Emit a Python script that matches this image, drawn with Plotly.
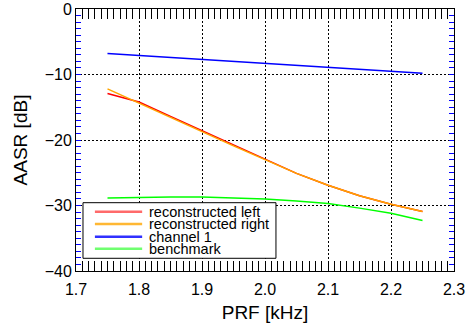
import plotly.graph_objects as go

# ---- data ----
prf = [1.75, 1.80, 1.85, 1.90, 1.95, 2.00, 2.05, 2.10, 2.15, 2.20, 2.25]
recon_left = [-12.9, -14.2, -16.4, -18.6, -20.8, -23.0, -25.1, -26.9, -28.5, -29.8, -30.9]
recon_right = [-12.2, -14.4, -16.6, -18.7, -20.9, -23.0, -25.1, -26.9, -28.5, -29.8, -30.9]
channel1 = [-6.8, -7.1, -7.4, -7.7, -8.0, -8.3, -8.6, -8.9, -9.2, -9.5, -9.8]
benchmark = [-28.85, -28.75, -28.7, -28.7, -28.8, -29.0, -29.3, -29.7, -30.4, -31.2, -32.3]

series_names = ["reconstructed left", "reconstructed right", "channel 1", "benchmark"]
series_values = [recon_left, recon_right, channel1, benchmark]
line_colors = ["#ff0000", "#ffa500", "#0000ff", "#00ff00"]
legend_colors = ["#ff6a6a", "#ffb733", "#3030ff", "#70ff70"]

x_range = [1.7, 2.3]
y_range = [-40, 0]

FONT = "Liberation Sans, Arial, Helvetica, sans-serif"

fig = go.Figure()
for i in range(len(series_names)):
    fig.add_trace(go.Scatter(
        x=prf, y=series_values[i], mode="lines", name=series_names[i],
        line=dict(color=line_colors[i], width=1.5), showlegend=False))

fig.update_xaxes(
    range=x_range, tickmode="linear", tick0=1.7, dtick=0.1, tickformat=".1f",
    ticks="inside", ticklen=10, tickcolor="black", tickwidth=1,
    minor=dict(ticks="inside", ticklen=10, dtick=0.01, tick0=1.7,
               tickcolor="black", tickwidth=1, showgrid=False),
    showline=True, linecolor="black", linewidth=1, mirror="allticks",
    showgrid=True, gridcolor="black", gridwidth=1, griddash="2px,2px",
    zeroline=False, automargin=False,
    tickfont=dict(family=FONT, size=16, color="black"),
    title=dict(text="PRF [kHz]", font=dict(family=FONT, size=19, color="black"), standoff=14),
    ticklabelstandoff=4,
)
fig.update_yaxes(
    range=y_range, tickmode="linear", tick0=0, dtick=10,
    ticks="inside", ticklen=5, tickcolor="blue", tickwidth=1,
    minor=dict(ticks="inside", ticklen=5, dtick=1, tick0=0,
               tickcolor="blue", tickwidth=1, showgrid=False),
    showline=True, linecolor="black", linewidth=1, mirror="allticks",
    showgrid=True, gridcolor="black", gridwidth=1, griddash="2px,2px",
    zeroline=False, automargin=False,
    tickfont=dict(family=FONT, size=16, color="black"),
    title=dict(text="AASR [dB]", font=dict(family=FONT, size=19, color="black"), standoff=12),
)

# ---- manual legend box (IDL-style, tight rows) ----
shapes = [dict(type="rect", xref="paper", yref="paper", x0=0.0185, x1=0.529,
               y0=0.0485, y1=0.2607, line=dict(color="black", width=1),
               fillcolor="white", layer="above")]
annotations = []
row_y = [0.226, 0.179, 0.131, 0.085]
for name, col, yy in zip(series_names, legend_colors, row_y):
    shapes.append(dict(type="line", xref="paper", yref="paper", x0=0.050, x1=0.175,
                       y0=yy, y1=yy, line=dict(color=col, width=2.5), layer="above"))
    annotations.append(dict(text=name, xref="paper", yref="paper", x=0.188, y=yy,
                            xanchor="left", yanchor="middle", showarrow=False,
                            font=dict(family=FONT, size=14.5, color="black")))

fig.update_layout(
    width=470, height=323, autosize=False,
    margin=dict(l=76, r=16, t=9, b=52, pad=0),
    paper_bgcolor="white", plot_bgcolor="white",
    shapes=shapes, annotations=annotations,
    showlegend=False,
)

fig.write_html("out.html")
